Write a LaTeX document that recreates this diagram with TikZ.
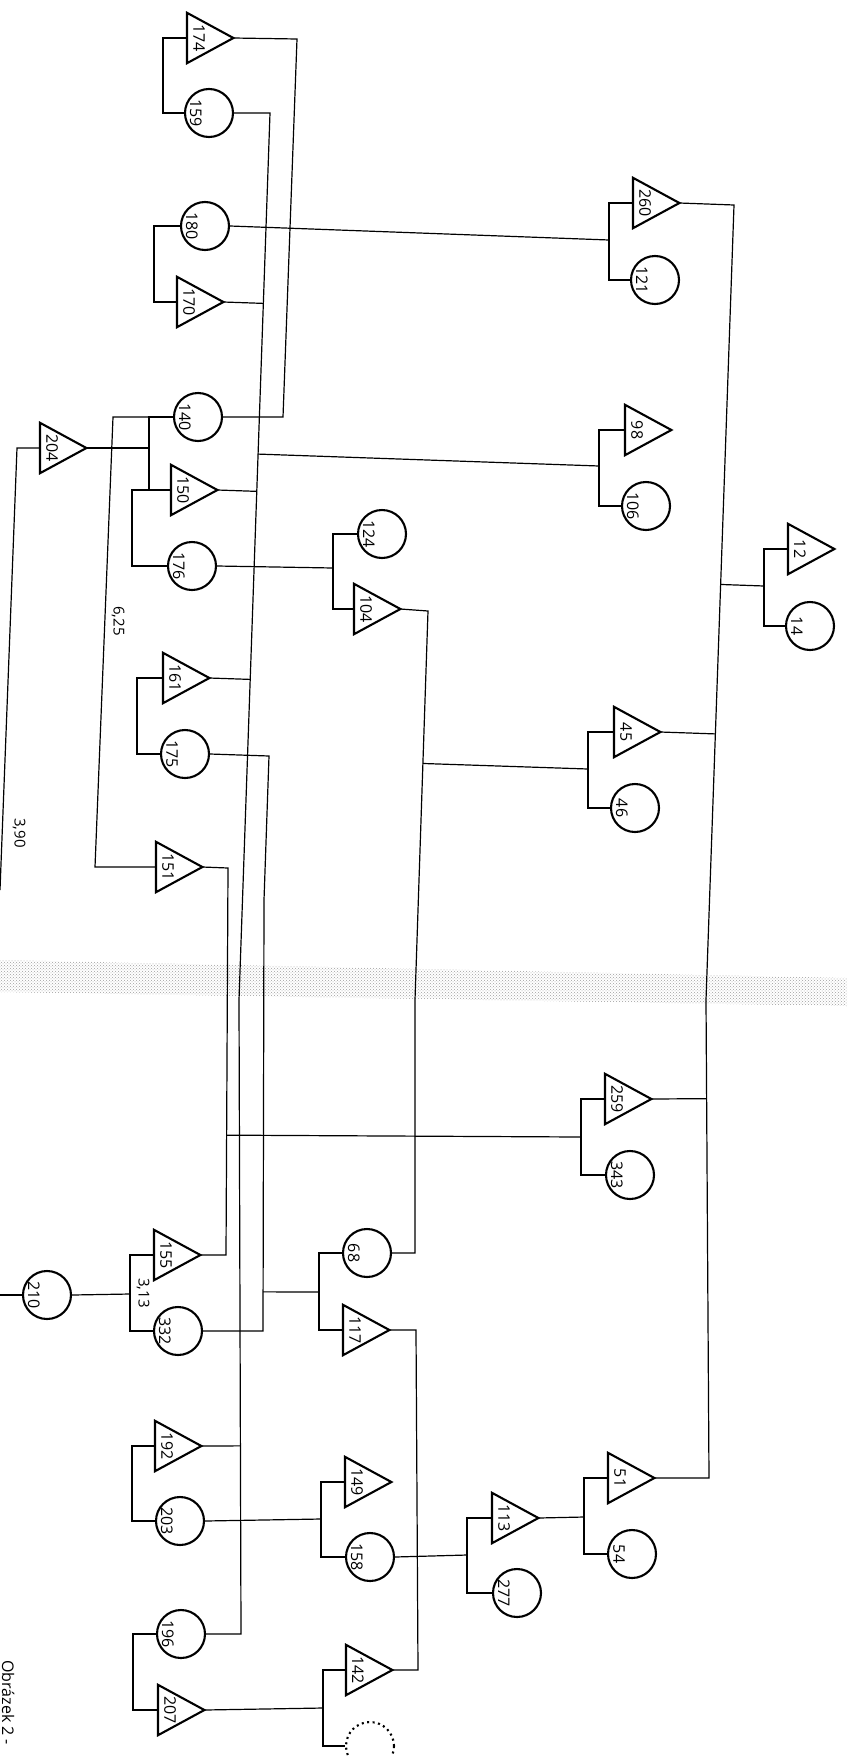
\documentclass[tikz,border=0pt]{standalone}
\usepackage{fontspec}
\setsansfont{Open Sans}
\usetikzlibrary{calc,patterns}

\begin{document}
\begin{tikzpicture}[x=1pt, y=-1pt,
  ln/.style={line width=1.2pt},
  sym/.style={line width=2.1pt},
  mal/.style={minimum width=46pt, minimum height=50pt, inner sep=0pt, anchor=west},
  fem/.style={circle, draw, line width=2.1pt, minimum size=48pt, inner sep=0pt},
  num/.style={rotate=-90, font=\sffamily\fontsize{16}{16}\selectfont, inner sep=0pt},
  coef/.style={rotate=-90, font=\sffamily\fontsize{15}{15}\selectfont, inner sep=0pt},
]
\useasboundingbox (0,0) rectangle (847,1756);

% page fold of the scan
\fill[pattern=crosshatch dots, pattern color=gray!75] (0,960) -- (847,978) -- (847,1006) -- (0,992) -- cycle;

% males
\foreach \n/\x/\y in {174/187/38, 170/177/302, 204/40/448, 150/171/490, 161/163/678,
  151/156/867, 155/154/1255, 192/155/1446, 207/158/1710, 260/633/203, 98/625/430,
  104/354/609, 12/788/549, 45/614/732, 259/605/1099, 117/343/1330, 149/345/1482,
  113/492/1518, 51/608/1478, 142/346/1670} {
  \node[mal] (t\n) at (\x,\y) {};
  \draw[sym] (t\n.north west) -- (t\n.east) -- (t\n.south west) -- cycle;
  \node[num] (lt\n) at ([xshift=12pt]t\n.west) {\n};
}

% females
\foreach \n/\x/\y in {159/209/113, 180/205/226, 140/198/417, 176/192/566, 175/185/754,
  210/47/1295, 332/178/1331, 203/180/1521, 196/181/1634, 121/655/280, 106/646/506,
  124/382/534, 14/810/626, 46/635/808, 343/630/1175, 68/367/1253, 158/370/1557,
  277/517/1593, 54/632/1554} {
  \node[fem] (c\n) at (\x,\y) {};
  \node[num] (lc\n) at ([xshift=12pt]c\n.west) {\n};
}
\node[fem, dash pattern=on 2pt off 3.5pt] (cx) at (370,1746) {};

% pair brackets
\coordinate (s174) at (163,75);
\coordinate (s180) at (154,264);
\coordinate (s140) at (149,448);
\coordinate (s150) at (132,528);
\coordinate (s161) at (137,716);
\coordinate (s124) at (333,568);
\coordinate (s260) at (609,240);
\coordinate (s98) at (599,466);
\coordinate (s12) at (764,586);
\coordinate (s45) at (588,769);
\coordinate (s259) at (581,1137);
\coordinate (s155) at (130,1294);
\coordinate (s68) at (319,1292);
\coordinate (s192) at (132,1483);
\coordinate (s149) at (321,1519);
\coordinate (s113) at (467,1555);
\coordinate (s51) at (584,1517);
\coordinate (s196) at (133,1672);
\coordinate (s142) at (323,1708);
\foreach \a/\b/\s in {t174/c159/s174, c180/t170/s180, c140/t150/s140, t150/c176/s150,
  t161/c175/s161, c124/t104/s124, t260/c121/s260, t98/c106/s98, t12/c14/s12,
  t45/c46/s45, t259/c343/s259, t155/c332/s155, c68/t117/s68, t192/c203/s192,
  t149/c158/s149, t113/c277/s113, t51/c54/s51, c196/t207/s196, t142/cx/s142}
  \draw[ln] (\a.west) -| (\s) |- (\b.west);

\draw[ln] (t204.east) -- (s140);
\draw[ln] (c176.east) -- (s124);
\draw[ln] (c180.east) -- (s260);
\draw[ln] (c210.east) -- (s155);
\draw[ln] (c203.east) -- (s149);
\draw[ln] (c158.east) -- (s113);
\draw[ln] (t113.east) -- (s51);
\draw[ln] (t207.east) -- (s142);

% long lines
\coordinate (v0a) at (297,39);
\coordinate (v0b) at (283,417);
\coordinate (v1a) at (270,113);
\coordinate (v1b) at (239,1000);
\coordinate (v1c) at (241,1634);
\coordinate (v2a) at (269,756);
\coordinate (v2b) at (264,900);
\coordinate (v2c) at (263,1331);
\coordinate (v3a) at (228,868);
\coordinate (v3b) at (226,1255);
\coordinate (v4a) at (113,417);
\coordinate (v4b) at (95,867);
\coordinate (v5a) at (428,611);
\coordinate (v5b) at (415,1000);
\coordinate (v5c) at (415,1253);
\coordinate (v6a) at (416,1330);
\coordinate (v6b) at (418,1670);
\coordinate (vra) at (734,205);
\coordinate (vrb) at (706,1000);
\coordinate (vrc) at (709,1478);
\coordinate (v7a) at (17,448);
\coordinate (v7b) at (0,890);
\coordinate (v8) at (0,1295);

\draw[ln] (t174.east) -- (v0a) -- (v0b) -- (c140.east);
\draw[ln] (c159.east) -- (v1a) -- (v1b) -- (v1c) -- (c196.east);
\draw[ln] (c175.east) -- (v2a) -- (v2b) -- (v2c) -- (c332.east);
\draw[ln] (t151.east) -- (v3a) -- (v3b) -- (t155.east);
\draw[ln] (c140.west) -- (v4a) -- (v4b) -- (t151.west);
\draw[ln] (t104.east) -- (v5a) -- (v5b) -- (v5c) -- (c68.east);
\draw[ln] (t117.east) -- (v6a) -- (v6b) -- (t142.east);
\draw[ln] (t260.east) -- (vra) -- (vrb) -- (vrc) -- (t51.east);
\draw[ln] (t204.west) -- (v7a) -- (v7b);
\draw[ln] (c210.west) -- (v8);

% branches
\draw[ln] (t170.east) -- ($(v1a)!(t170.east)!(v1b)$);
\draw[ln] (t150.east) -- ($(v1a)!(t150.east)!(v1b)$);
\draw[ln] (t161.east) -- ($(v1a)!(t161.east)!(v1b)$);
\draw[ln] (s98) -- ($(v1a)!(s98)!(v1b)$);
\draw[ln] (t192.east) -- ($(v1b)!(t192.east)!(v1c)$);
\draw[ln] (s68) -- ($(v2b)!(s68)!(v2c)$);
\draw[ln] (s259) -- ($(v3a)!(s259)!(v3b)$);
\draw[ln] (s45) -- ($(v5a)!(s45)!(v5b)$);
\draw[ln] (s12) -- ($(vra)!(s12)!(vrb)$);
\draw[ln] (t45.east) -- ($(vra)!(t45.east)!(vrb)$);
\draw[ln] (t259.east) -- ($(vrb)!(t259.east)!(vrc)$);

% coefficients and caption
\node[coef] (k625) at (118,621) {6,25};
\node[coef] (k390) at (19,833) {3,90};
\node[coef] (k313) at (143,1293) {3,13};
\node[coef, font=\sffamily\fontsize{16}{16}\selectfont, anchor=base west] (cap) at (2,1660) {Obrázek 2 -};
\end{tikzpicture}
\end{document}
